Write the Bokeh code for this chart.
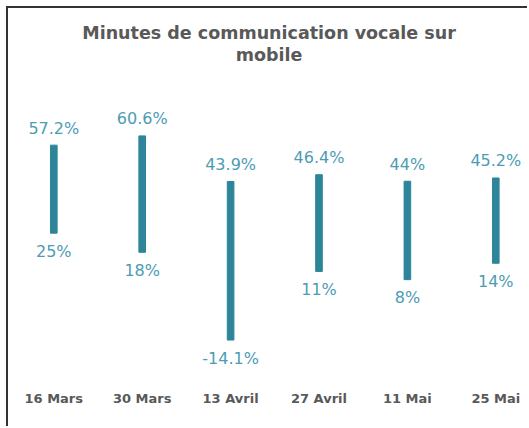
from bokeh.plotting import figure
from bokeh.models import Range1d, FixedTicker, ColumnDataSource, Title
from bokeh.core.properties import value
from bokeh.embed import file_html
from bokeh.resources import INLINE

categories = ["16 Mars", "30 Mars", "13 Avril", "27 Avril", "11 Mai", "25 Mai"]
highs = [57.2, 60.6, 43.9, 46.4, 44, 45.2]
lows = [25, 18, -14.1, 11, 8, 14]
high_labels = ["57.2%", "60.6%", "43.9%", "46.4%", "44%", "45.2%"]
low_labels = ["25%", "18%", "-14.1%", "11%", "8%", "14%"]
title_lines = ["Minutes de communication vocale sur", "mobile"]

pos = list(range(len(categories)))
src = ColumnDataSource(dict(x=pos, hi=highs, lo=lows, hl=high_labels, ll=low_labels))

BAR = "#2e8599"
LAB = "#4c9cb4"
GREY = "#595959"

p = figure(width=521, height=420, output_backend="svg", toolbar_location=None,
           x_range=Range1d(-0.5124, 5.3813), y_range=Range1d(-28.17, 80.13),
           min_border_left=0, min_border_right=0, min_border_top=74, min_border_bottom=50)
p.styles = {"border-left": "2px solid #333333", "border-top": "2px solid #333333",
            "margin-left": "6px", "margin-top": "6px"}

def style_title(t, size="17.5px"):
    t.align = "center"
    t.text_font = "DejaVu Sans"
    t.text_font_style = "bold"
    t.text_font_size = size
    t.text_color = GREY
    t.standoff = 0

p.title.text = title_lines[0]
style_title(p.title)
spacer = Title(text=" ")
style_title(spacer, "13.5px")
p.add_layout(spacer, "above")
t2 = Title(text=title_lines[1])
style_title(t2)
p.add_layout(t2, "above")

p.vbar(x="x", bottom="lo", top="hi", width=0.075, source=src, color=BAR)
p.text(x="x", y="hi", text="hl", source=src, text_align="center", text_baseline="alphabetic",
       y_offset=-17, text_font=value("DejaVu Sans"), text_font_size="16px", text_color=LAB)
p.text(x="x", y="lo", text="ll", source=src, text_align="center", text_baseline="alphabetic",
       y_offset=18, text_font=value("DejaVu Sans"), text_font_size="16px", text_color=LAB)

p.yaxis.visible = False
p.xaxis.ticker = FixedTicker(ticks=pos)
p.xaxis.major_label_overrides = {i: c for i, c in zip(pos, categories)}
p.xaxis.axis_line_color = None
p.xaxis.major_tick_line_color = None
p.xaxis.minor_tick_line_color = None
p.xaxis.major_label_standoff = 6
p.xaxis.major_label_text_font = "DejaVu Sans"
p.xaxis.major_label_text_font_style = "bold"
p.xaxis.major_label_text_font_size = "13px"
p.xaxis.major_label_text_color = GREY
p.grid.visible = False
p.outline_line_color = None

open("out.html", "w").write(file_html(p, INLINE))
